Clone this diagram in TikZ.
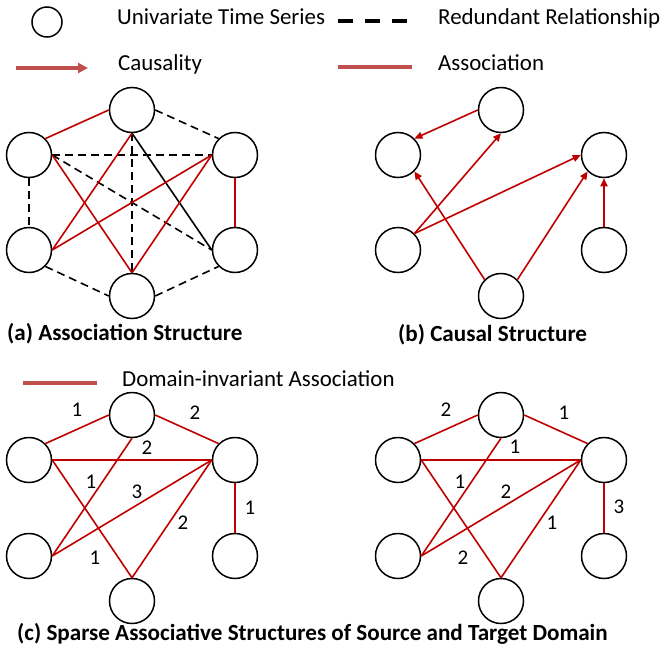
\documentclass[tikz,border=0pt]{standalone}
\usepackage{fontspec}
\setmainfont{Carlito}
\usetikzlibrary{arrows.meta}
\definecolor{ered}{HTML}{C00000}
\definecolor{lred}{HTML}{C0504D}
\begin{document}
\begin{tikzpicture}[x=1bp,y=-1bp,
  ts/.style={circle,draw,line width=1.5bp,minimum size=45bp,inner sep=0pt},
  legts/.style={circle,draw,line width=1.5bp,minimum size=30bp,inner sep=0pt},
  assoc/.style={draw=ered,line width=1.6bp},
  redund/.style={draw=black,line width=1.6bp,dash pattern=on 8bp off 5bp},
  solidb/.style={draw=black,line width=1.6bp},
  cause/.style={draw=ered,line width=1.6bp,-{Triangle[length=8bp,width=7bp]}},
  lbl/.style={font=\fontsize{21}{21}\selectfont,inner sep=0pt},
  legtxt/.style={font=\fontsize{23}{23}\selectfont,anchor=base west,inner sep=0pt},
  capt/.style={font=\bfseries\fontsize{23.2}{23.2}\selectfont,anchor=base west,inner sep=0pt},
  legline/.style={draw=lred,line width=3.5bp}]
\useasboundingbox (0,0) rectangle (663,652);

% ---------- legend ----------
\node[legts] (legc) at (47,22) {};
\node[legtxt] (legu) at (117,25) {Univariate Time Series};
\coordinate (rd1) at (338,21); \coordinate (rd2) at (408,21);
\draw[line width=3.5bp,dash pattern=on 15bp off 12bp] (rd1) -- (rd2);
\node[legtxt] (legr) at (438,25) {Redundant Relationship};
\coordinate (ca1) at (16,68); \coordinate (ca2) at (88,68);
\draw[legline,-{Triangle[length=10bp,width=10bp]}] (ca1) -- (ca2);
\node[legtxt] (legca) at (118,71) {Causality};
\coordinate (as1) at (338,67); \coordinate (as2) at (412,67);
\draw[legline] (as1) -- (as2);
\node[legtxt] (legas) at (438,71) {Association};
\coordinate (di1) at (23,383); \coordinate (di2) at (97,383);
\draw[legline] (di1) -- (di2);
\node[legtxt] (legdi) at (122,386) {Domain-invariant Association};

% ---------- (a) ----------
\node[ts] (aT) at (132,110) {};
\node[ts] (aLU) at (29,155) {};
\node[ts] (aRU) at (235,155) {};
\node[ts] (aLL) at (29,250) {};
\node[ts] (aRL) at (235,250) {};
\node[ts] (aB) at (132,296) {};
\draw[redund] (aT.east) -- (aRU.north west);
\draw[redund] (aLU.east) -- (aRU.west);
\draw[redund] (aLU.south) -- (aLL.north);
\draw[redund] (aLU.east) -- (aRL.west);
\draw[redund] (aT.south) -- (aB.north);
\draw[redund] (aLL.south east) -- (aB.west);
\draw[redund] (aB.east) -- (aRL.south west);
\draw[solidb] (aT.south) -- (aRL.west);
\draw[assoc] (aLU.north east) -- (aT.west);
\draw[assoc] (aLU.east) -- (aB.north);
\draw[assoc] (aT.south) -- (aLL.east);
\draw[assoc] (aLL.east) -- (aRU.west);
\draw[assoc] (aB.north) -- (aRU.west);
\draw[assoc] (aRU.south) -- (aRL.north);
\node[capt] (capa) at (7,340) {(a) Association Structure};

% ---------- (b) ----------
\node[ts] (bT) at (501,110) {};
\node[ts] (bLU) at (398,155) {};
\node[ts] (bRU) at (604,155) {};
\node[ts] (bLL) at (398,250) {};
\node[ts] (bRL) at (604,250) {};
\node[ts] (bB) at (501,296) {};
\draw[cause] (bT.west) -- (bLU.north east);
\draw[cause] (bLL.north east) -- (bT.south);
\draw[cause] (bLL.north east) -- (bRU.west);
\draw[cause] (bB.north west) -- (bLU.south east);
\draw[cause] (bB.north east) -- (bRU.south west);
\draw[cause] (bRL.north) -- (bRU.south);
\node[capt] (capb) at (398,341) {(b) Causal Structure};

% ---------- (c) left ----------
\node[ts] (cT) at (132,415) {};
\node[ts] (cLU) at (29,460) {};
\node[ts] (cRU) at (235,460) {};
\node[ts] (cLL) at (29,556) {};
\node[ts] (cRL) at (235,556) {};
\node[ts] (cB) at (132,601) {};
\draw[assoc] (cLU.north east) -- (cT.west);
\draw[assoc] (cT.east) -- (cRU.north west);
\draw[assoc] (cLU.east) -- (cRU.west);
\draw[assoc] (cT.south) -- (cLL.east);
\draw[assoc] (cLL.east) -- (cRU.west);
\draw[assoc] (cLU.east) -- (cB.north);
\draw[assoc] (cB.north) -- (cRU.west);
\draw[assoc] (cRU.south) -- (cRL.north);
\node[lbl] (cl1) at (77,410) {1};
\node[lbl] (cl2) at (195,413) {2};
\node[lbl] (cl3) at (147,448) {2};
\node[lbl] (cl4) at (91,482) {1};
\node[lbl] (cl5) at (137,492) {3};
\node[lbl] (cl6) at (95,558) {1};
\node[lbl] (cl7) at (183,523) {2};
\node[lbl] (cl8) at (250,508) {1};

% ---------- (c) right ----------
\node[ts] (dT) at (501,415) {};
\node[ts] (dLU) at (398,460) {};
\node[ts] (dRU) at (604,460) {};
\node[ts] (dLL) at (398,556) {};
\node[ts] (dRL) at (604,556) {};
\node[ts] (dB) at (501,601) {};
\draw[assoc] (dLU.north east) -- (dT.west);
\draw[assoc] (dT.east) -- (dRU.north west);
\draw[assoc] (dLU.east) -- (dRU.west);
\draw[assoc] (dT.south) -- (dLL.east);
\draw[assoc] (dLL.east) -- (dRU.west);
\draw[assoc] (dLU.east) -- (dB.north);
\draw[assoc] (dB.north) -- (dRU.west);
\draw[assoc] (dRU.south) -- (dRL.north);
\node[lbl] (dl1) at (446,410) {2};
\node[lbl] (dl2) at (564,413) {1};
\node[lbl] (dl3) at (515,447) {1};
\node[lbl] (dl4) at (460,482) {1};
\node[lbl] (dl5) at (506,492) {2};
\node[lbl] (dl6) at (463,558) {2};
\node[lbl] (dl7) at (552,523) {1};
\node[lbl] (dl8) at (619,507) {3};

\node[capt] (capc) at (17,640) {(c) Sparse Associative Structures of Source and Target Domain};
\end{tikzpicture}
\end{document}
